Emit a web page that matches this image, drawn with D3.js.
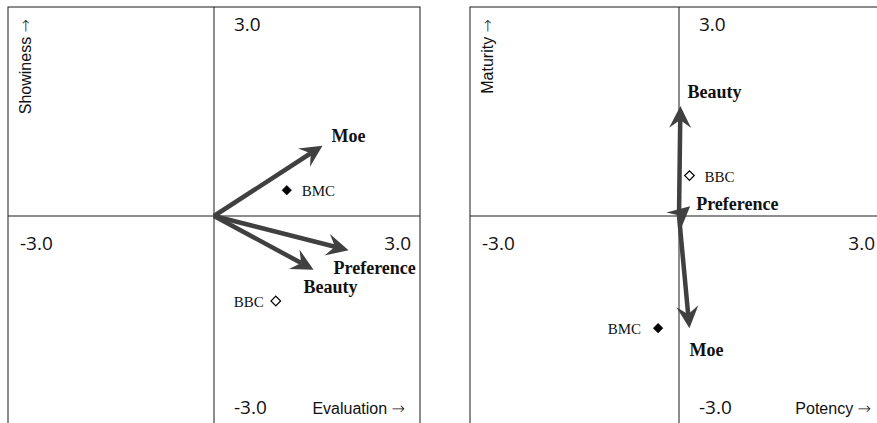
<!DOCTYPE html>
<html>
<head>
<meta charset="utf-8">
<script src="https://cdn.jsdelivr.net/npm/d3@7"></script>
<style>
  html, body { margin: 0; padding: 0; background: #fff; }
  svg { display: block; }
</style>
</head>
<body>
<svg id="chart" width="877" height="423"></svg>
<script>
// Attribute vectors (bold labels with arrows)
const vectorNames = ["Moe", "Preference", "Beauty"];
const evaluationX = [1.58, 1.96, 1.45];
const showinessY = [1.01, -0.49, -0.77];
const potencyX = [0.15, 0.16, 0.02];
const maturityY = [-1.61, 0.14, 1.58];

// Sample points (diamonds)
const sampleNames = ["BMC", "BBC"];
const sampleFilled = [true, false];
const evaluationSampleX = [1.06, 0.90];
const showinessSampleY = [0.37, -1.22];
const potencySampleX = [-0.30, 0.15];
const maturitySampleY = [-1.61, 0.58];

// Axis extent and tick labels
const axisMin = -3, axisMax = 3;
const tickLow = "-3.0", tickHigh = "3.0";
const leftTitles = { x: "Evaluation", y: "Showiness" };
const rightTitles = { x: "Potency", y: "Maturity" };
const arrowGlyph = "\u2192";

const svg = d3.select("#chart");
const ink = "#1a1a1a";
const arrowInk = "#404040";

// Arrowhead shape: tip at origin, pointing along +x, notched back
const headPath = "M0,0 L-22,-11 L-14,0 L-22,11 Z";

function addTitle(sel, label) {
  sel.attr("font-family", "'Liberation Sans', Arial, sans-serif")
    .attr("font-size", "16px")
    .attr("fill", "#111");
  sel.append("tspan").text(label + " ");
  sel.append("tspan")
    .attr("font-family", "'DejaVu Sans', sans-serif")
    .attr("font-weight", "200")
    .text(arrowGlyph);
}

function drawPanel(cfg) {
  const x = d3.scaleLinear().domain([axisMin, axisMax]).range(cfg.xRange);
  const y = d3.scaleLinear().domain([axisMin, axisMax]).range([425, 7]);
  const g = svg.append("g");

  // frame
  g.append("rect")
    .attr("x", x(axisMin)).attr("y", y(axisMax))
    .attr("width", x(axisMax) - x(axisMin)).attr("height", y(axisMin) - y(axisMax))
    .attr("fill", "none").attr("stroke", ink).attr("stroke-width", 1);

  // cross axes
  g.append("line")
    .attr("x1", x(axisMin)).attr("x2", x(axisMax))
    .attr("y1", y(0)).attr("y2", y(0))
    .attr("stroke", ink).attr("stroke-width", 1);
  g.append("line")
    .attr("x1", x(0)).attr("x2", x(0))
    .attr("y1", y(axisMin)).attr("y2", y(axisMax))
    .attr("stroke", ink).attr("stroke-width", 1);

  // tick labels at axis ends
  const ticks = [
    { t: tickHigh, x: x(0) + 20, y: y(axisMax) + 24, a: "start" },
    { t: tickLow, x: x(axisMin) + 12, y: y(0) + 34, a: "start" },
    { t: tickHigh, x: x(axisMax) - cfg.rightTickInset, y: y(0) + 34, a: "end" },
    { t: tickLow, x: x(0) + 20, y: y(axisMin) - 11, a: "start" }
  ];
  g.selectAll("text.tick").data(ticks).enter().append("text")
    .attr("class", "tick")
    .attr("x", d => d.x).attr("y", d => d.y)
    .attr("text-anchor", d => d.a)
    .attr("font-family", "'Open Sans', sans-serif").attr("font-size", "19px")
    .attr("fill", "#111")
    .text(d => d.t);

  // axis titles
  g.append("text")
    .attr("x", x(axisMax) - cfg.titleInset).attr("y", y(axisMin) - 11)
    .attr("text-anchor", "end")
    .call(addTitle, cfg.titles.x);
  g.append("text")
    .attr("transform", `translate(${x(axisMin) + 23},${y(axisMax) + 12}) rotate(-90)`)
    .attr("text-anchor", "end")
    .call(addTitle, cfg.titles.y);

  // vectors
  const vecs = vectorNames.map((n, i) => ({ name: n, vx: cfg.vx[i], vy: cfg.vy[i], off: cfg.vecLabelOff[n] }));
  const vg = g.selectAll("g.vec").data(vecs).enter().append("g").attr("class", "vec");
  vg.each(function (d) {
    const sel = d3.select(this);
    const x0 = x(0), y0 = y(0), x1 = x(d.vx), y1 = y(d.vy);
    const ang = Math.atan2(y1 - y0, x1 - x0);
    const len = Math.hypot(x1 - x0, y1 - y0);
    const shaftLen = Math.max(0, len - 14);
    sel.append("line")
      .attr("x1", x0).attr("y1", y0)
      .attr("x2", x0 + Math.cos(ang) * shaftLen).attr("y2", y0 + Math.sin(ang) * shaftLen)
      .attr("stroke", arrowInk).attr("stroke-width", 4.5).attr("stroke-linecap", "butt");
    sel.append("path")
      .attr("d", headPath)
      .attr("transform", `translate(${x1},${y1}) rotate(${ang * 180 / Math.PI})`)
      .attr("fill", arrowInk);
    sel.append("text")
      .attr("x", x1 + d.off[0]).attr("y", y1 + d.off[1])
      .attr("font-family", "'Liberation Serif', 'Times New Roman', serif")
      .attr("font-size", "18px").attr("font-weight", "bold")
      .attr("fill", "#111")
      .text(d.name);
  });

  // sample diamonds
  const samples = sampleNames.map((n, i) => ({ name: n, filled: sampleFilled[i], sx: cfg.sx[i], sy: cfg.sy[i], off: cfg.sampleLabelOff[n] }));
  const diamond = d3.symbol().type(d3.symbolSquare).size(46);
  const sg = g.selectAll("g.sample").data(samples).enter().append("g").attr("class", "sample");
  sg.append("path")
    .attr("d", diamond)
    .attr("transform", d => `translate(${x(d.sx)},${y(d.sy)}) rotate(45)`)
    .attr("fill", d => d.filled ? "#000" : "#fff")
    .attr("stroke", "#000").attr("stroke-width", d => d.filled ? 0.5 : 1.2);
  sg.append("text")
    .attr("x", d => x(d.sx) + d.off[0]).attr("y", d => y(d.sy) + d.off[1])
    .attr("text-anchor", d => d.off[2])
    .attr("font-family", "'Liberation Serif', 'Times New Roman', serif")
    .attr("font-size", "15px")
    .attr("fill", "#111")
    .text(d => d.name);
}

drawPanel({
  xRange: [8, 420],
  vx: evaluationX, vy: showinessY,
  sx: evaluationSampleX, sy: showinessSampleY,
  titles: leftTitles,
  rightTickInset: 9,
  titleInset: 15,
  vecLabelOff: { Moe: [9, -4], Preference: [-15, 24], Beauty: [-10, 23] },
  sampleLabelOff: { BMC: [15, 6, "start"], BBC: [-12, 6, "end"] }
});

drawPanel({
  xRange: [470, 888],
  vx: potencyX, vy: maturityY,
  sx: potencySampleX, sy: maturitySampleY,
  titles: rightTitles,
  rightTickInset: 13,
  titleInset: 17,
  vecLabelOff: { Moe: [0, 28], Preference: [6, 4], Beauty: [7, -8] },
  sampleLabelOff: { BMC: [-17, 6, "end"], BBC: [15, 6, "start"] }
});
</script>
</body>
</html>
